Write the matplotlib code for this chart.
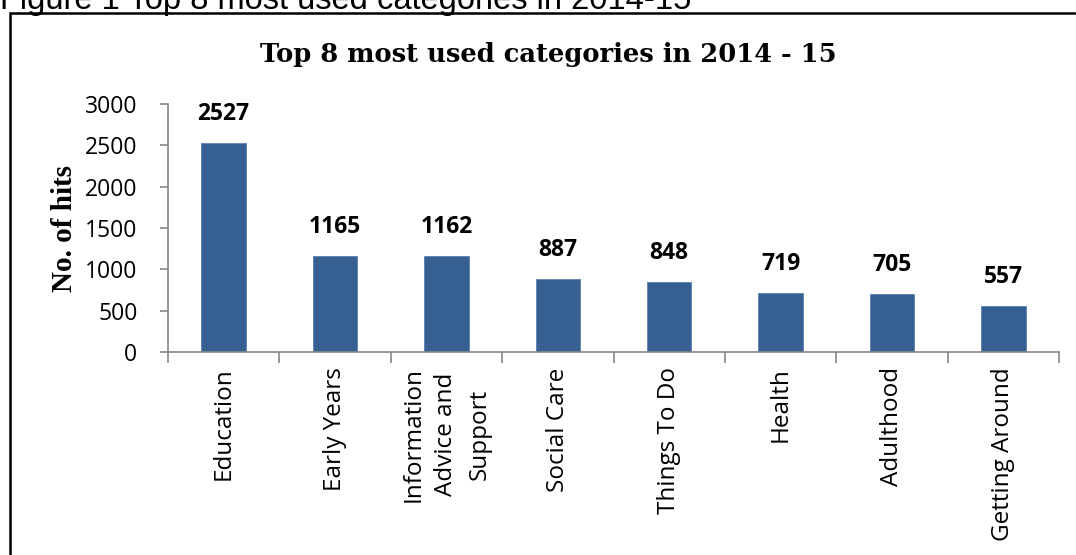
import numpy as np
import matplotlib.pyplot as plt
from matplotlib.patches import Rectangle

# data
categories = ['Education', 'Early Years', 'Information\nAdvice and\nSupport',
              'Social Care', 'Things To Do', 'Health', 'Adulthood', 'Getting Around']
hits = [2527, 1165, 1162, 887, 848, 719, 705, 557]
y_ticks = [0, 500, 1000, 1500, 2000, 2500, 3000]

W, H = 1076, 555
fig = plt.figure(figsize=(W / 100, H / 100), dpi=100)

# caption above the chart frame (top is cut off in the original)
fig.text(0, 1 - 9.5 / H, 'Figure 1 Top 8 most used categories in 2014-15',
         family='Liberation Sans', fontsize=23.5, va='baseline', ha='left')

# chart frame
fig.add_artist(Rectangle((10 / W, -0.1), 1.2, 1 - 13 / H + 0.1,
                         transform=fig.transFigure, fill=False,
                         edgecolor='black', linewidth=1.8))

ax = fig.add_axes([168 / W, 1 - 352 / H, (1059 - 168) / W, (352 - 104) / H])

x = np.arange(len(categories))
bars = ax.bar(x, hits, width=0.4, color='#376092', edgecolor='#5b80ad', linewidth=0.6)

for xi, v in zip(x, hits):
    ax.annotate(str(v), (xi, v), xytext=(0, 12), textcoords='offset points',
                ha='center', va='bottom', fontsize=16.5, fontweight='bold',
                family='Open Sans')

ax.set_xlim(-0.5, len(categories) - 0.5)
ax.set_ylim(0, 3000)
ax.set_yticks(y_ticks)
ax.set_yticklabels([str(t) for t in y_ticks], family='Open Sans', fontsize=16.5)

ax.set_xticks(x)
ax.set_xticklabels(categories, rotation=90, family='Open Sans', fontsize=17.5,
                   va='top', ha='center', multialignment='center', linespacing=1.5)
ax.set_xticks(np.arange(len(categories) + 1) - 0.5, minor=True)
ax.tick_params(axis='x', which='major', length=0, pad=11)
ax.tick_params(axis='x', which='minor', length=8, color='#868686', width=1.2)
ax.tick_params(axis='y', length=6, color='#868686', width=1.2, pad=16)

for side in ['top', 'right']:
    ax.spines[side].set_visible(False)
for side in ['left', 'bottom']:
    ax.spines[side].set_color('#868686')
    ax.spines[side].set_linewidth(1.2)

ax.set_ylabel('No. of hits', family='Liberation Serif', fontweight='bold',
              fontsize=21, labelpad=5)
fig.text(548 / W, 1 - 62 / H, 'Top 8 most used categories in 2014 - 15',
         family='DejaVu Serif', fontweight='bold', fontsize=18.5,
         ha='center', va='baseline')

fig.savefig('out.png', dpi=100)
